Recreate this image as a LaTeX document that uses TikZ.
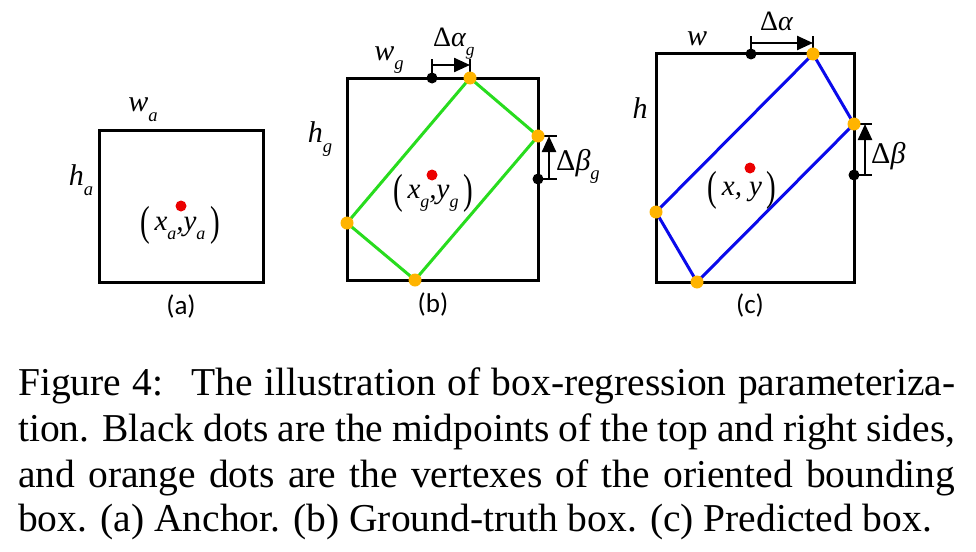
\documentclass[tikz,border=0pt]{standalone}
\usepackage{fontspec}
\usepackage{graphicx}
\setmainfont{Liberation Serif}
\newfontfamily\panelfont{Carlito}
\usetikzlibrary{arrows.meta}

\definecolor{obbgreen}{RGB}{40,220,30}
\definecolor{obbblue}{RGB}{10,10,235}
\definecolor{vtxorange}{RGB}{255,180,0}
\definecolor{ctrred}{RGB}{235,0,0}

\newcommand{\lowidx}[1]{\raisebox{-0.32em}{\scalebox{0.62}{\itshape #1}}}
\newcommand{\tallparen}[1]{\raisebox{-0.16em}{\scalebox{1}[1.45]{\upshape #1}}}

\tikzset{
  boxframe/.style={line width=3pt, line join=miter},
  obb/.style={line width=3pt, line join=round},
  vtxdot/.style={circle, fill=vtxorange, inner sep=0pt, minimum size=13pt},
  middot/.style={circle, fill=black, inner sep=0pt, minimum size=11pt},
  ctrdot/.style={circle, fill=ctrred, inner sep=0pt, minimum size=11pt},
  dimtick/.style={line width=2.4pt},
  shiftarrow/.style={line width=2.4pt, -{Triangle[length=16pt,width=14pt]}},
  sizelab/.style={inner sep=0pt, font=\fontsize{30}{34}\selectfont\itshape},
  ctrlab/.style={inner sep=0pt, font=\fontsize{29}{33}\selectfont\itshape},
  alphalab/.style={inner sep=0pt, anchor=base west, font=\fontsize{28}{32}\selectfont\itshape},
  betalab/.style={inner sep=0pt, anchor=base west, font=\fontsize{30}{34}\selectfont\itshape},
  panellab/.style={inner sep=0pt, font=\fontsize{27}{30}\selectfont\panelfont},
  capline/.style={inner sep=0pt, anchor=base west, font=\fontsize{39.5}{45}\selectfont}
}

\begin{document}
\begin{tikzpicture}[x=1pt,y=-1pt]
\useasboundingbox (0,0) rectangle (976,551);

% (a) anchor
\coordinate (a-nw) at (99,130);
\coordinate (a-se) at (263,282);
\draw[boxframe] (a-nw) rectangle (a-se);
\node[ctrdot] (a-c) at (181,206) {};
\node[ctrlab] (a-cl) at (180,225) {\tallparen{(}\,x\lowidx{a},y\lowidx{a}\,\tallparen{)}};
\node[sizelab] (a-w) at (143,110) {w\lowidx{a}};
\node[sizelab] (a-h) at (81,180) {h\lowidx{a}};
\node[panellab] (a-lab) at (181,306) {(a)};

% (b) ground truth
\coordinate (b-nw) at (347,78);
\coordinate (b-se) at (538,280);
\coordinate (b-t) at (470,78);
\coordinate (b-r) at (538,136);
\coordinate (b-b) at (415,280);
\coordinate (b-l) at (347,223);
\coordinate (b-mt) at (432,78);
\coordinate (b-mr) at (538,179);
\draw[boxframe] (b-nw) rectangle (b-se);
\draw[obb, obbgreen] (b-t) -- (b-r) -- (b-b) -- (b-l) -- cycle;
\draw[dimtick] (b-mt) -- ++(0,-19) coordinate (b-ta);
\draw[dimtick] (b-t) -- ++(0,-19) coordinate (b-tb);
\draw[shiftarrow] ([yshift=13pt]b-mt) -- ([yshift=13pt]b-t);
\draw[dimtick] (b-mr) -- ++(19,0) coordinate (b-ra);
\draw[dimtick] (b-r) -- ++(19,0) coordinate (b-rb);
\draw[shiftarrow] ([xshift=11pt]b-mr) -- ([xshift=11pt]b-r);
\node[middot] (b-mtd) at (b-mt) {};
\node[middot] (b-mrd) at (b-mr) {};
\foreach \v in {t,r,b,l}
  \node[vtxdot] (b-\v d) at (b-\v) {};
\node[ctrdot] (b-c) at (432,175) {};
\node[ctrlab] (b-cl) at (433,193) {\tallparen{(}\,x\lowidx{g},y\lowidx{g}\,\tallparen{)}};
\node[alphalab] (b-da) at (433,47) {{\upshape Δ}α\lowidx{g}};
\node[betalab] (b-db) at (556,170) {{\upshape Δ}β\lowidx{g}};
\node[sizelab] (b-w) at (389,60) {w\lowidx{g}};
\node[sizelab] (b-h) at (320,139) {h\lowidx{g}};
\node[panellab] (b-lab) at (433,304) {(b)};

% (c) prediction
\coordinate (c-nw) at (656,54);
\coordinate (c-se) at (854,282);
\coordinate (c-t) at (813,54);
\coordinate (c-r) at (854,124);
\coordinate (c-b) at (697,282);
\coordinate (c-l) at (656,212);
\coordinate (c-mt) at (751,54);
\coordinate (c-mr) at (854,175);
\draw[boxframe] (c-nw) rectangle (c-se);
\draw[obb, obbblue] (c-t) -- (c-r) -- (c-b) -- (c-l) -- cycle;
\draw[dimtick] (c-mt) -- ++(0,-18) coordinate (c-ta);
\draw[dimtick] (c-t) -- ++(0,-18) coordinate (c-tb);
\draw[shiftarrow] ([yshift=11pt]c-mt) -- ([yshift=11pt]c-t);
\draw[dimtick] (c-mr) -- ++(18,0) coordinate (c-ra);
\draw[dimtick] (c-r) -- ++(18,0) coordinate (c-rb);
\draw[shiftarrow] ([xshift=11pt]c-mr) -- ([xshift=11pt]c-r);
\node[middot] (c-mtd) at (c-mt) {};
\node[middot] (c-mrd) at (c-mr) {};
\foreach \v in {t,r,b,l}
  \node[vtxdot] (c-\v d) at (c-\v) {};
\node[ctrdot] (c-c) at (750,168) {};
\node[ctrlab] (c-cl) at (742,190) {\tallparen{(}\,x, y\,\tallparen{)}};
\node[alphalab] (c-da) at (760,31) {{\upshape Δ}α};
\node[betalab] (c-db) at (871,163) {{\upshape Δ}β};
\node[sizelab] (c-w) at (697,39) {w};
\node[sizelab] (c-h) at (640,108) {h};
\node[panellab] (c-lab) at (750,305) {(c)};

% caption
\node[capline] (cap1) at (18,395) {\makebox[937pt][s]{Figure 4: \ The illustration of box-regression parameteriza-}};
\node[capline] (cap2) at (18,441) {\makebox[937pt][s]{tion. Black dots are the midpoints of the top and right sides,}};
\node[capline] (cap3) at (18,487) {\makebox[937pt][s]{and orange dots are the vertexes of the oriented bounding}};
\node[capline] (cap4) at (18,531) {box. (a) Anchor. (b) Ground-truth box. (c) Predicted box.};
\end{tikzpicture}
\end{document}
